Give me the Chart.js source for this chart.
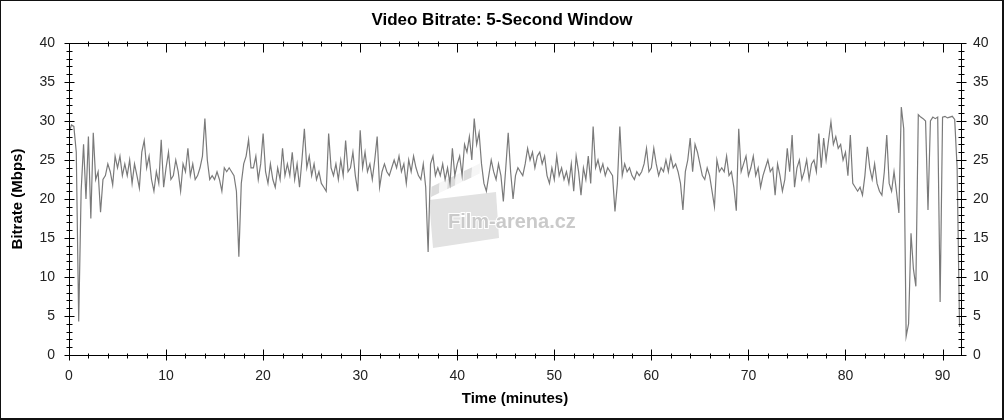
<!DOCTYPE html>
<html>
<head>
<meta charset="utf-8">
<title>Video Bitrate</title>
<script src="https://cdn.jsdelivr.net/npm/chart.js@4.4.1/dist/chart.umd.min.js"></script>
<style>
  html, body { margin: 0; padding: 0; background: #fff; }
  #wrap { width: 1004px; height: 420px; position: relative; }
</style>
</head>
<body>
<div id="wrap"><canvas id="bitrateChart" width="1004" height="420"></canvas></div>
<script>
// one sample every 0.25 min
const STEP = 0.25;

// Mbps (0 .. 91.75 min)
const bitrate = [
  28.5, 29.5, 29.3, 26, 4.3, 21, 27, 20, 28, 17.5, 28.5, 22.5, 23.5, 18.3, 22.5, 23, 24.5, 23.5, 21.8, 25.5,
  24, 25.5, 23, 24.5, 23, 25, 22, 24.5, 23, 21.4, 26, 27.5, 24, 25.5, 22.5, 21, 23.5, 22, 27.6, 21.5,
  24, 26, 22.5, 23, 25, 23.5, 21, 24.5, 23.5, 26.5, 23, 24.5, 22.5, 23, 24, 25.5, 30.3, 25, 22.5, 23,
  22.5, 23.5, 22.5, 21, 24, 23.5, 24, 23.5, 23, 21, 12.6, 22, 24.5, 25.5, 27.6, 24, 24, 25.5, 22.5, 24.5,
  28.4, 23.5, 22, 24.5, 22.5, 21.5, 24, 22.5, 26.5, 23, 24.5, 23, 26, 22.5, 24.5, 21.5, 25, 29, 24, 25.5,
  23, 24.5, 22.5, 23.5, 22, 21.5, 21, 28.4, 24, 23, 24.5, 22.5, 25, 23, 27.5, 23.5, 24, 26, 23, 21,
  28.8, 24, 26, 23.5, 24.5, 22.5, 25, 28, 21.5, 23.5, 24.5, 23.5, 23, 24, 25, 24, 25.5, 23.5, 24.5, 22,
  25, 23.5, 25.5, 24, 23, 22.5, 24.5, 21.5, 13.2, 24.5, 25.5, 23, 24, 23, 24.5, 22.5, 24, 22, 26.5, 23,
  24.5, 25.5, 23, 27, 26, 28, 25, 30.3, 27, 28.5, 24.5, 22, 21, 23, 25, 23.5, 22.5, 24.5, 23, 19.7,
  24, 28.5, 23.5, 20, 23, 24, 23.5, 23, 24.5, 26.5, 25, 26, 24, 25.5, 26, 24.5, 25.5, 23, 22, 24,
  22.5, 25.5, 23, 24, 22.5, 23.5, 22, 24.5, 21, 25.5, 23.5, 20.5, 24, 22.5, 25.5, 22, 29.3, 24, 25, 23.5,
  24.5, 23, 24, 23.5, 23, 18.4, 22, 29.3, 23, 24.5, 23.5, 24, 23, 22.5, 23.5, 23, 23.5, 24.5, 26.5, 23.5,
  24, 26.5, 24.5, 23, 24, 23.5, 25, 23.5, 25.5, 24, 24.5, 23.5, 22, 18.6, 23.5, 25, 27.8, 23.5, 27, 26,
  24.5, 23, 22.5, 24, 23, 21, 19, 25, 23.5, 24, 23.5, 25.5, 23, 23.5, 21.5, 18.5, 29, 23.5, 24.5, 25.5,
  23, 24, 25.5, 23, 24, 21.5, 23, 24, 25, 23.5, 24, 20.5, 24.5, 23, 21, 22.5, 26.5, 23.5, 28.2, 21.5,
  24, 25, 22.5, 23.5, 25, 22.5, 24.5, 25, 23.5, 28.4, 24, 27.8, 25, 27.5, 29.9, 27, 28, 26.5, 27, 25,
  26, 23, 28.2, 22, 21.5, 21, 21.5, 20.5, 23, 26.7, 24, 22.5, 24.5, 22, 21, 20.5, 23.5, 28.2, 22, 21,
  23.5, 21, 18.2, 31.8, 29, 2.4, 4, 15.6, 11, 8.8, 30.8, 30.5, 30.3, 30, 18.6, 30, 30.5, 30.3, 30.5, 6.8,
  30.5, 30.6, 30.4, 30.5, 30.6, 30.2, 24, 3.6
];

const xTicks = [0, 10, 20, 30, 40, 50, 60, 70, 80, 90];
const yTicks = [0, 5, 10, 15, 20, 25, 30, 35, 40];
const X_MAX = 91.9;
const Y_MAX = 40;

const chartTitle = 'Video Bitrate: 5-Second Window';
const xTitle = 'Time (minutes)';
const yTitle = 'Bitrate (Mbps)';
const watermarkText = 'Film-arena.cz';

Chart.defaults.font.family = "'Liberation Sans', Arial, sans-serif";

const points = bitrate.map((v, i) => ({ x: i * STEP, y: v }));

// faint logo behind the line
const watermark = {
  id: 'watermark',
  beforeDatasetsDraw(chart) {
    const ctx = chart.ctx;
    ctx.save();
    ctx.fillStyle = '#e2e2e2';
    ctx.beginPath();
    ctx.moveTo(429, 200);
    ctx.lineTo(496, 192);
    ctx.lineTo(499, 238);
    ctx.lineTo(433, 248);
    ctx.closePath();
    ctx.fill();
    // striped board
    ctx.translate(431, 197);
    ctx.rotate(-0.45);
    for (let i = 0; i < 6; i++) {
      ctx.fillStyle = i % 2 ? '#f6f6f6' : '#dcdcdc';
      ctx.beginPath();
      ctx.moveTo(i * 9, 0);
      ctx.lineTo(i * 9 + 9, 0);
      ctx.lineTo(i * 9 + 14, -9);
      ctx.lineTo(i * 9 + 5, -9);
      ctx.closePath();
      ctx.fill();
    }
    ctx.restore();
    ctx.save();
    ctx.font = "bold 20px 'Liberation Sans', Arial, sans-serif";
    ctx.textBaseline = 'alphabetic';
    ctx.lineWidth = 2;
    ctx.strokeStyle = '#ffffff';
    ctx.strokeText(watermarkText, 448, 228);
    ctx.fillStyle = '#cacaca';
    ctx.fillText(watermarkText, 448, 228);
    ctx.restore();
  }
};

// frame, crossing tick marks and outer border
const axesFrame = {
  id: 'axesFrame',
  afterDraw(chart) {
    const { ctx, chartArea: a, scales } = chart;
    const sx = scales.x, sy = scales.y;
    const L = Math.round(a.left) + 0.5, R = Math.round(a.right) + 0.5;
    const T = Math.round(a.top) + 0.5, B = Math.round(a.bottom) + 0.5;
    ctx.save();
    ctx.strokeStyle = '#000';
    ctx.lineWidth = 1;
    ctx.beginPath();
    ctx.rect(L, T, R - L, B - T);
    for (let v = 0; v <= Y_MAX; v += 1) {
      const p = Math.round(sy.getPixelForValue(v)) + 0.5;
      const len = v % 5 === 0 ? 5 : 3;
      ctx.moveTo(L - len, p); ctx.lineTo(L + len, p);
      ctx.moveTo(R - len, p); ctx.lineTo(R + len, p);
    }
    for (let v = 0; v <= X_MAX; v += 2) {
      const p = Math.round(sx.getPixelForValue(v)) + 0.5;
      if (v % 10 === 0) {
        ctx.moveTo(p, B - 6); ctx.lineTo(p, B + 5);
        ctx.moveTo(p, T); ctx.lineTo(p, T + 9);
      } else {
        ctx.moveTo(p, B - 2); ctx.lineTo(p, B + 3);
        ctx.moveTo(p, T - 2); ctx.lineTo(p, T + 3);
      }
    }
    ctx.stroke();
    ctx.strokeStyle = '#111';
    ctx.strokeRect(0.5, 0.5, chart.width - 1, chart.height - 1);
    ctx.beginPath();
    ctx.moveTo(chart.width - 1.5, 0); ctx.lineTo(chart.width - 1.5, chart.height);
    ctx.moveTo(0, chart.height - 1.5); ctx.lineTo(chart.width, chart.height - 1.5);
    ctx.stroke();
    ctx.restore();
  }
};

const tickFont = { size: 14 };
const titleFont = { size: 15, weight: 'bold' };

new Chart(document.getElementById('bitrateChart'), {
  type: 'line',
  data: {
    datasets: [{
      data: points,
      borderColor: '#7a7a7a',
      borderWidth: 1.2,
      pointRadius: 0,
      tension: 0,
      fill: false
    }]
  },
  options: {
    responsive: false,
    animation: false,
    devicePixelRatio: 1,
    layout: { padding: 0 },
    plugins: {
      legend: { display: false },
      tooltip: { enabled: false },
      title: {
        display: true,
        text: chartTitle,
        color: '#000',
        font: { size: 17, weight: 'bold' },
        padding: { top: 10, bottom: 12.6 }
      }
    },
    scales: {
      x: {
        type: 'linear',
        position: 'bottom',
        min: 0,
        max: X_MAX,
        afterBuildTicks: s => { s.ticks = xTicks.map(v => ({ value: v })); },
        afterFit: s => { s.height = 65; },
        grid: { display: false, drawTicks: false },
        border: { display: false },
        ticks: { padding: 13, color: '#222', font: tickFont, maxRotation: 0, autoSkip: false },
        title: { display: true, text: xTitle, color: '#000', font: titleFont, padding: { top: 12, bottom: 12 } }
      },
      y: {
        position: 'left',
        min: 0,
        max: Y_MAX,
        afterBuildTicks: s => { s.ticks = yTicks.map(v => ({ value: v })); },
        afterFit: s => { s.width = 69; },
        grid: { display: false, drawTicks: false },
        border: { display: false },
        ticks: { padding: 14, color: '#222', font: tickFont },
        title: { display: true, text: yTitle, color: '#000', font: titleFont, padding: { top: 9, bottom: 0 } }
      },
      y2: {
        position: 'right',
        min: 0,
        max: Y_MAX,
        afterBuildTicks: s => { s.ticks = yTicks.map(v => ({ value: v })); },
        afterFit: s => { s.width = 43; },
        grid: { display: false, drawTicks: false },
        border: { display: false },
        ticks: { padding: 12, color: '#222', font: tickFont }
      }
    }
  },
  plugins: [watermark, axesFrame]
});
</script>
</body>
</html>
